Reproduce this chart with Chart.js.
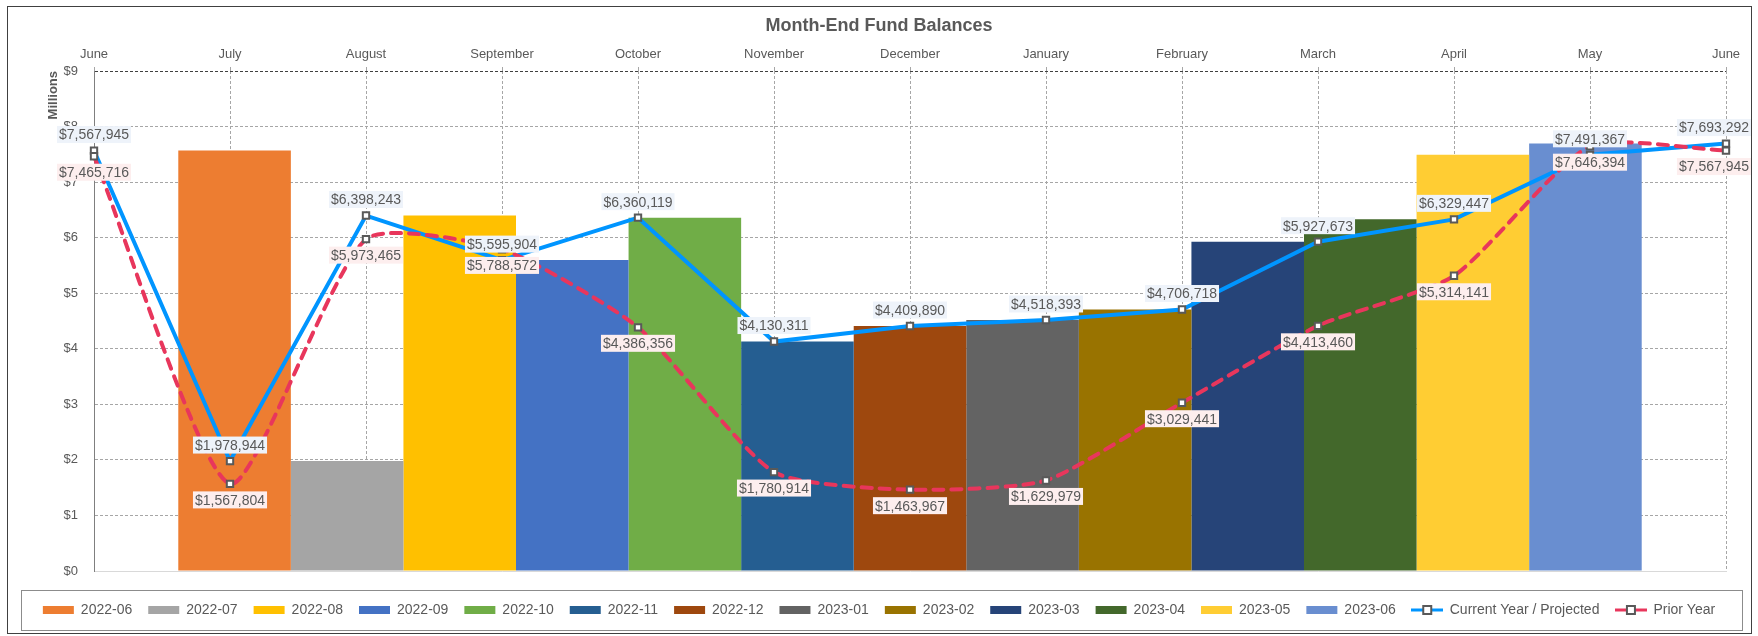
<!DOCTYPE html>
<html>
<head>
<meta charset="utf-8">
<title>Month-End Fund Balances</title>
<script src="https://cdn.jsdelivr.net/npm/chart.js@4.4.1/dist/chart.umd.min.js"></script>
<style>
  html, body { margin: 0; padding: 0; background: #fff; }
</style>
</head>
<body>
<canvas id="fundChart" width="1758" height="636"></canvas>
<script>
// month ticks along the top (line series)
const months = ['June', 'July', 'August', 'September', 'October', 'November', 'December',
  'January', 'February', 'March', 'April', 'May', 'June'];

// one bar per month-end
const barLabels = ['2022-06', '2022-07', '2022-08', '2022-09', '2022-10', '2022-11', '2022-12',
  '2023-01', '2023-02', '2023-03', '2023-04', '2023-05', '2023-06'];

const currentYear = [7567945, 1978944, 6398243, 5595904, 6360119, 4130311, 4409890,
  4518393, 4706718, 5927673, 6329447, 7491367, 7693292];

const priorYear = [7465716, 1567804, 5973465, 5788572, 4386356, 1780914, 1463967,
  1629979, 3029441, 4413460, 5314141, 7646394, 7567945];

const barColors = ['#ED7D31', '#A5A5A5', '#FFC000', '#4472C4', '#70AD47', '#255E91', '#9E480E',
  '#636363', '#997300', '#264478', '#43682B', '#FFCD33', '#698ED0'];

const FONT = '"Liberation Sans", Arial, sans-serif';
Chart.defaults.font.family = FONT;
Chart.defaults.color = '#595959';

function makeLegendIcon(color) {
  const c = document.createElement('canvas');
  c.width = 32; c.height = 10;
  const g = c.getContext('2d');
  g.strokeStyle = color; g.lineWidth = 3;
  g.beginPath(); g.moveTo(0, 5); g.lineTo(32, 5); g.stroke();
  g.fillStyle = '#fff'; g.fillRect(12, 1, 8, 8);
  g.strokeStyle = '#595959'; g.lineWidth = 2; g.strokeRect(12, 1, 8, 8);
  return c;
}
const legendIcons = {
  'Current Year / Projected': makeLegendIcon('#0095FF'),
  'Prior Year': makeLegendIcon('#E8365C')
};

const barDatasets = barLabels.map((lab, i) => ({
  type: 'bar',
  label: lab,
  indexAxis: 'x',
  data: [currentYear[i]],
  backgroundColor: barColors[i],
  xAxisID: 'xb',
  yAxisID: 'y',
  categoryPercentage: 0.8967,
  barPercentage: 1,
  order: 2
}));

const lineDatasets = [
  {
    type: 'line',
    label: 'Current Year / Projected',
    indexAxis: 'x',
    data: currentYear,
    xAxisID: 'x',
    yAxisID: 'y',
    borderColor: '#0095FF',
    borderWidth: 4,
    tension: 0,
    pointStyle: 'rect',
    pointRadius: 4.5,
    pointBorderWidth: 2,
    pointBorderColor: '#595959',
    pointBackgroundColor: '#fff',
    clip: false,
    order: 1
  },
  {
    type: 'line',
    label: 'Prior Year',
    indexAxis: 'x',
    data: priorYear,
    xAxisID: 'x',
    yAxisID: 'y',
    borderColor: '#E8365C',
    borderWidth: 4,
    borderDash: [10, 8],
    borderCapStyle: 'round',
    tension: 0.2,
    pointStyle: 'rect',
    pointRadius: 4.5,
    pointBorderWidth: 2,
    pointBorderColor: '#595959',
    pointBackgroundColor: '#fff',
    clip: false,
    order: 0
  }
];

// label boxes above (current) / below (prior) each point
const labelStyle = {
  'Current Year / Projected': { bg: '#EEF3FA', dir: -1 },
  'Prior Year': { bg: '#FDEEEE', dir: 1 }
};

const pointLabels = {
  id: 'pointLabels',
  afterDraw(chart) {
    const ctx = chart.ctx;
    ctx.save();
    ctx.font = '14px ' + FONT;
    ctx.textAlign = 'center';
    ctx.textBaseline = 'middle';
    chart.data.datasets.forEach((ds, di) => {
      const st = labelStyle[ds.label];
      if (!st) return;
      const meta = chart.getDatasetMeta(di);
      meta.data.forEach((pt, j) => {
        const text = '$' + ds.data[j].toLocaleString('en-US');
        const w = ctx.measureText(text).width + 4;
        const h = 17;
        let cx = Math.min(pt.x, chart.width - 7 - w / 2);
        const cy = pt.y + st.dir * 16;
        ctx.fillStyle = st.bg;
        ctx.fillRect(cx - w / 2, cy - h / 2, w, h);
        ctx.fillStyle = '#595959';
        ctx.fillText(text, cx, cy + 1);
      });
    });
    ctx.restore();
  }
};

const frame = {
  id: 'frame',
  beforeDraw(chart) {
    const ctx = chart.ctx;
    ctx.save();
    ctx.fillStyle = '#fff';
    ctx.fillRect(0, 0, chart.width, chart.height);
    ctx.restore();
  },
  afterDraw(chart) {
    const ctx = chart.ctx;
    const lg = chart.legend;
    ctx.save();
    ctx.strokeStyle = '#404040';
    ctx.lineWidth = 1;
    ctx.strokeRect(7.5, 6.5, chart.width - 14, chart.height - 9);
    ctx.strokeStyle = '#8C8C8C';
    ctx.strokeRect(lg.left + 13.5, lg.top + 3.5, lg.width - 21, 40);
    ctx.restore();
  }
};

new Chart(document.getElementById('fundChart'), {
  data: {
    labels: months,
    datasets: barDatasets.concat(lineDatasets)
  },
  options: {
    // chart-level 'y' keeps the grouped bars from being split per x axis;
    // every dataset sets indexAxis 'x' itself
    indexAxis: 'y',
    responsive: false,
    animation: false,
    devicePixelRatio: 1,
    layout: { padding: { top: 5, left: 8, right: 8, bottom: 9 } },
    scales: {
      x: {
        type: 'category',
        labels: months,
        position: 'top',
        offset: false,
        grid: { color: '#A6A6A6', lineWidth: 1, tickLength: 4, drawTicks: true },
        border: { display: false, dash: [3, 2] },
        ticks: { autoSkip: false, maxRotation: 0, padding: 5, color: '#595959', font: { size: 13 } },
        afterFit: s => { s.height = 30.4; }
      },
      xb: {
        type: 'category',
        labels: ['FY'],
        position: 'bottom',
        offset: true,
        grid: { display: false },
        ticks: { display: false },
        border: { display: true, color: '#D9D9D9', width: 1 },
        afterFit: s => { s.height = 16; }
      },
      y: {
        type: 'linear',
        position: 'left',
        min: 0,
        max: 9000000,
        ticks: {
          stepSize: 1000000,
          padding: 16,
          color: '#595959',
          font: { size: 13 },
          callback: v => '$' + (v / 1000000)
        },
        grid: {
          drawTicks: false,
          color: c => c.tick.value === 0 ? 'rgba(0,0,0,0)' : (c.tick.value === 9000000 ? '#404040' : '#A6A6A6')
        },
        border: { display: true, color: '#7F7F7F', dash: [3, 2] },
        title: {
          display: true,
          text: 'Millions',
          align: 'end',
          color: '#595959',
          font: { size: 13, weight: 'bold' },
          padding: { top: 38, bottom: 0 }
        },
        afterFit: s => { s.width = 86; }
      },
      ySpacer: {
        type: 'linear',
        position: 'right',
        min: 0,
        max: 1,
        grid: { display: false },
        ticks: { display: false },
        border: { display: false },
        afterFit: s => { s.width = 24; }
      }
    },
    plugins: {
      title: {
        display: true,
        text: 'Month-End Fund Balances',
        color: '#595959',
        font: { size: 18, weight: 'bold' },
        padding: { top: 10, bottom: 4 }
      },
      tooltip: { enabled: false },
      legend: {
        position: 'bottom',
        labels: {
          usePointStyle: true,
          pointStyleWidth: 31,
          boxHeight: 8,
          padding: 16,
          color: '#595959',
          font: { size: 14 },
          sort: (a, b) => a.datasetIndex - b.datasetIndex,
          generateLabels: chart => {
            const items = Chart.defaults.plugins.legend.labels.generateLabels(chart);
            return items.map(it => {
              const ds = chart.data.datasets[it.datasetIndex];
              if (ds.type === 'bar') {
                it.pointStyle = 'rect';
                it.fillStyle = ds.backgroundColor;
                it.strokeStyle = ds.backgroundColor;
                it.lineWidth = 0;
              } else {
                it.pointStyle = legendIcons[ds.label];
              }
              return it;
            });
          }
        }
      }
    }
  },
  plugins: [frame, pointLabels]
});
</script>
</body>
</html>
